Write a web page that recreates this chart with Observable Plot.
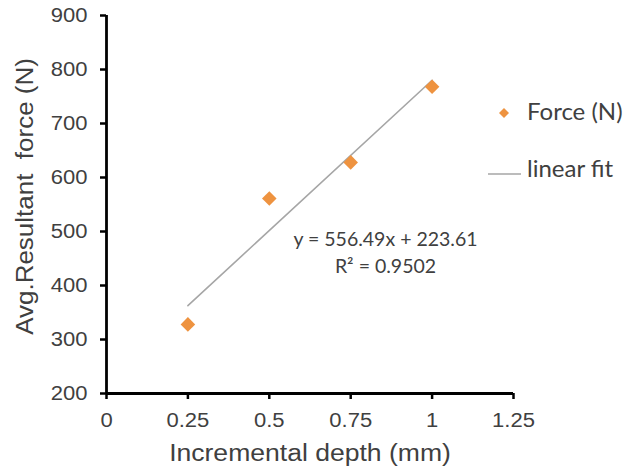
<!DOCTYPE html>
<html>
<head>
<meta charset="utf-8">
<script src="https://cdn.jsdelivr.net/npm/d3@7"></script>
<script src="https://cdn.jsdelivr.net/npm/@observablehq/plot@0.6"></script>
<style>
  html, body { margin: 0; padding: 0; background: #ffffff; }
  #chart { position: relative; width: 635px; height: 472px; }
</style>
</head>
<body>
<div id="chart"></div>
<script>
// Measured force for each incremental depth
const depth = [0.25, 0.5, 0.75, 1];
const force = [328, 561, 628, 768];

// Linear trend line as reported on the chart
const fitSlope = 556.49;
const fitIntercept = 223.61;
const fitR2 = 0.9502;

// Axis ticks
const xTicks = [0, 0.25, 0.5, 0.75, 1, 1.25];
const xTickLabels = ["0", "0.25", "0.5", "0.75", "1", "1.25"];
const yTicks = [200, 300, 400, 500, 600, 700, 800, 900];

const xTitle = "Incremental depth (mm)";
const yTitle = "Avg.Resultant\u00a0 force (N)";
const seriesName = "Force (N)";
const fitName = "linear fit";

const points = depth.map((d, i) => ({depth: d, force: force[i]}));
const fitEnds = [depth[0], depth[depth.length - 1]].map(x => ({depth: x, force: fitSlope * x + fitIntercept}));
const eqLine1 = `y = ${fitSlope}x + ${fitIntercept}`;
const eqLine2 = `R\u00b2 = ${fitR2}`;

const sansFont = "'Liberation Sans', Arial, Helvetica, sans-serif";
const labelFont = "Lato, 'Open Sans', sans-serif";
const textColor = "#404040";
const orange = "#EE9340";
const fitColor = "#A6A6A6";

const svg = Plot.plot({
  width: 635,
  height: 472,
  marginLeft: 106,
  marginRight: 122,
  marginTop: 15,
  marginBottom: 79,
  x: {domain: [0, 1.25]},
  y: {domain: [200, 900]},
  style: {fontFamily: sansFont, fontSize: "19.5px", color: textColor, background: "#ffffff", overflow: "visible"},
  marks: [
    Plot.axisY({
      ticks: yTicks, tickSize: 6, tickPadding: 13, stroke: "#000", strokeWidth: 2.5,
      fill: textColor, fontSize: 19.5, fontFamily: sansFont, label: null
    }),
    Plot.axisX({
      ticks: xTicks, tickFormat: d => xTickLabels[xTicks.indexOf(d)], tickSize: 6, tickPadding: 14,
      stroke: "#000", strokeWidth: 2.5, fill: textColor, fontSize: 19.5, fontFamily: sansFont, label: null
    }),
    Plot.ruleX([0], {stroke: "#000", strokeWidth: 2.8}),
    Plot.ruleY([200], {stroke: "#000", strokeWidth: 2.8}),
    Plot.line(fitEnds, {x: "depth", y: "force", stroke: fitColor, strokeWidth: 1.6}),
    Plot.dot(points, {x: "depth", y: "force", symbol: "square", rotate: 45, r: 5.8, fill: orange, stroke: null}),
    // trend line equation
    Plot.text([eqLine1], {frameAnchor: "top-left", dx: 279, dy: 224, text: d => d, textAnchor: "middle", lineAnchor: "middle",
      fontFamily: labelFont, fontSize: 19.5, fill: textColor}),
    Plot.text([eqLine2], {frameAnchor: "top-left", dx: 279, dy: 251, text: d => d, textAnchor: "middle", lineAnchor: "middle",
      fontFamily: labelFont, fontSize: 19.5, fill: textColor}),
    // axis titles
    Plot.text([xTitle], {frameAnchor: "bottom", dy: 59.5, text: d => d, textAnchor: "middle", lineAnchor: "middle",
      fontFamily: sansFont, fontSize: 23.5, fill: textColor}),
    Plot.text([yTitle], {frameAnchor: "left", dx: -80.4, dy: -8, rotate: -90, text: d => d, textAnchor: "middle", lineAnchor: "middle",
      fontFamily: sansFont, fontSize: 23, fill: textColor})
  ]
});

document.getElementById("chart").append(svg);

// Legend at the right of the plot
const legend = d3.select(svg).append("g")
  .attr("font-family", labelFont).attr("font-size", 24).attr("fill", textColor).attr("text-anchor", "start");
legend.append("path")
  .attr("d", d3.symbol(d3.symbolSquare, 50)())
  .attr("transform", "translate(504,113) rotate(45)")
  .attr("fill", orange);
legend.append("text").attr("x", 527).attr("y", 120).text(seriesName);
legend.append("line")
  .attr("x1", 488).attr("x2", 521).attr("y1", 174).attr("y2", 174)
  .attr("stroke", fitColor).attr("stroke-width", 1.6);
legend.append("text").attr("x", 527).attr("y", 177).text(fitName);

// The Arial-style labels are set slightly wide along their reading direction
svg.querySelectorAll("text").forEach(t => {
  const ff = getComputedStyle(t).fontFamily;
  if (ff.includes("Lato")) return;
  const tr = t.getAttribute("transform") || "";
  t.setAttribute("transform", `${tr} scale(1.13,1)`);
});
</script>
</body>
</html>
